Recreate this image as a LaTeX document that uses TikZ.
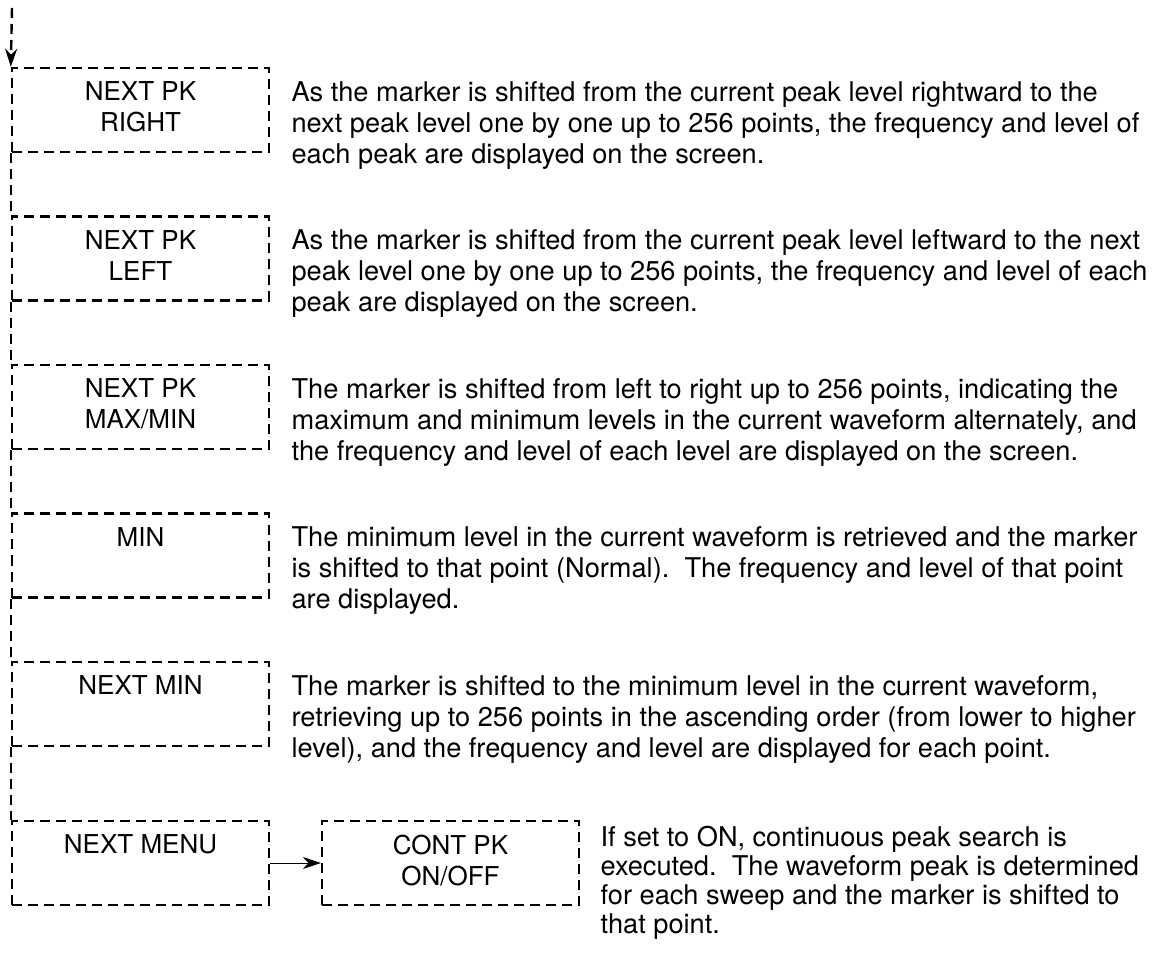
\documentclass[tikz,border=0pt]{standalone}
\usepackage{fontspec}
\setmainfont{TeX Gyre Heros}
\usetikzlibrary{arrows.meta}
\newcommand{\keytext}[1]{\parbox[c][42pt][t]{128pt}{\centering\vspace*{7pt}#1}}

\begin{document}
\begin{tikzpicture}[
  font=\fontsize{13}{15.5}\selectfont,
  >={Stealth[length=9pt,width=6pt]},
  dashline/.style={dash pattern=on 5pt off 3pt, line width=1.2pt},
  softkey/.style={draw, dashline, minimum width=128.5pt, minimum height=42pt, inner sep=0pt},
  explain/.style={anchor=north west, align=left, inner sep=0pt, font=\fontsize{13.6}{15.5}\selectfont}
]
\useasboundingbox (0,0) rectangle (580.5pt,-478pt);
% soft keys of the peak menu
\node[softkey] (rightpk) at (70.25pt,-55pt) {\keytext{NEXT PK\\RIGHT}};
\node[softkey, node distance=74.25pt, below of=rightpk] (leftpk) {\keytext{NEXT PK\\LEFT}};
\node[softkey, node distance=74.25pt, below of=leftpk] (maxmin) {\keytext{NEXT PK\\MAX/MIN}};
\node[softkey, node distance=74.25pt, below of=maxmin] (minkey) {\keytext{MIN}};
\node[softkey, node distance=74.25pt, below of=minkey] (nextmin) {\keytext{NEXT MIN}};
\node[softkey, node distance=79.5pt, below of=nextmin] (nextmenu) {\keytext{NEXT MENU}};
\node[softkey, node distance=155pt, right of=nextmenu] (contpk) {\keytext{CONT PK\\ON/OFF}};
% explanations
\node[explain] (rightpktxt) at ([shift={(10.5pt,-7pt)}]rightpk.north east) {As the marker is shifted from the current peak level rightward to the\\ next peak level one by one up to 256 points, the frequency and level of\\ each peak are displayed on the screen.};
\node[explain] (leftpktxt) at ([shift={(10.5pt,-7pt)}]leftpk.north east) {As the marker is shifted from the current peak level leftward to the next\\ peak level one by one up to 256 points, the frequency and level of each\\ peak are displayed on the screen.};
\node[explain] (maxmintxt) at ([shift={(10.5pt,-7pt)}]maxmin.north east) {The marker is shifted from left to right up to 256 points, indicating the\\ maximum and minimum levels in the current waveform alternately, and\\ the frequency and level of each level are displayed on the screen.};
\node[explain] (minkeytxt) at ([shift={(10.5pt,-7pt)}]minkey.north east) {The minimum level in the current waveform is retrieved and the marker\\ is shifted to that point (Normal).\ \ The frequency and level of that point\\ are displayed.};
\node[explain] (nextmintxt) at ([shift={(10.5pt,-7pt)}]nextmin.north east) {The marker is shifted to the minimum level in the current waveform,\\ retrieving up to 256 points in the ascending order (from lower to higher\\ level), and the frequency and level are displayed for each point.};
\node[explain, font=\fontsize{13.6}{14.5}\selectfont] (contpktxt) at ([shift={(10pt,-3pt)}]contpk.north east) {If set to ON, continuous peak search is\\ executed.\ \ The waveform peak is determined\\ for each sweep and the marker is shifted to\\ that point.};
% feed line down the left side
\coordinate (feed) at (6pt,-4pt);
\draw[dashline, ->] (feed) -- (rightpk.north west);
\draw[dashline] (rightpk.south west) -- (leftpk.north west);
\draw[dashline] (leftpk.south west) -- (maxmin.north west);
\draw[dashline] (maxmin.south west) -- (minkey.north west);
\draw[dashline] (minkey.south west) -- (nextmin.north west);
\draw[dashline] (nextmin.south west) -- (nextmenu.north west);
\draw[->, thin] (nextmenu) -- (contpk);
\end{tikzpicture}
\end{document}
